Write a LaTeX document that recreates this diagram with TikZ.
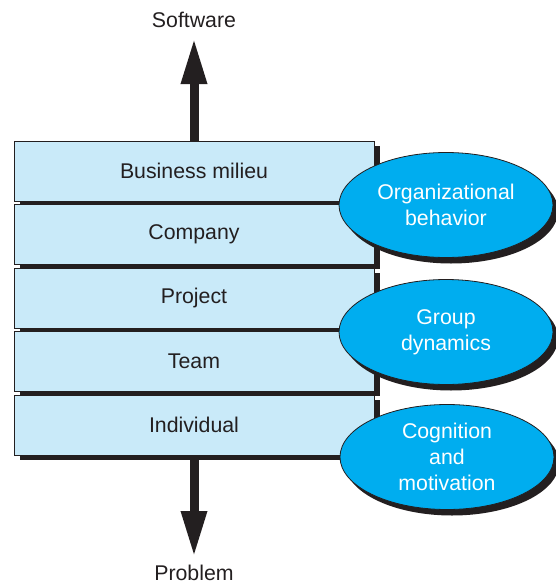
\documentclass[tikz,border=0pt]{standalone}
\usepackage{fontspec}
\setmainfont{Liberation Sans}
\usetikzlibrary{arrows.meta,shapes.geometric,shadows}
\definecolor{boxblue}{HTML}{C9EAF9}
\definecolor{ovalblue}{HTML}{00ADEF}
\definecolor{ink}{HTML}{231F20}
\tikzset{
  layer/.style={draw=ink, line width=0.8pt, fill=boxblue, minimum width=360pt, minimum height=60pt,
    inner sep=0pt, text=ink, font=\fontsize{21.3}{25}\selectfont,
    drop shadow={shadow xshift=5.5pt, shadow yshift=-4.5pt, fill=ink, opacity=1}},
  oval/.style={ellipse, draw=ink, line width=0.8pt, fill=ovalblue, minimum width=214pt, minimum height=105pt,
    inner sep=0pt, text=white, align=center, font=\fontsize{21.3}{25.8}\selectfont,
    drop shadow={shadow xshift=5pt, shadow yshift=-6pt, fill=ink, opacity=1}},
  label/.style={text=ink, font=\fontsize{21.3}{25}\selectfont, inner sep=0pt},
  bigarrow/.style={draw=ink, line width=9pt, -{Triangle[length=46pt 0 0,width=24pt 0 0]}}
}
\begin{document}
\begin{tikzpicture}[x=1pt,y=-1pt]
\useasboundingbox (0,0) rectangle (555,584);
\node[layer] (b1) at (194,171) {Business milieu};
\node[layer] (b2) at (194,234.5) {Company};
\node[layer] (b3) at (194,298) {Project};
\node[layer] (b4) at (194,361.5) {Team};
\node[layer] (b5) at (194,425) {Individual};
\node[oval] (o1) at (446,205) {Organizational\\behavior};
\node[oval] (o2) at (446,332) {Group\\dynamics};
\node[oval] (o3) at (447,457) {Cognition\\and\\motivation};
\node[label] (sw) at (194,20) {Software};
\node[label] (pr) at (194,573) {Problem};
\coordinate (swtip) at (194,38);
\coordinate (prtip) at (194,557);
\draw[bigarrow] (b1.north) -- (swtip);
\draw[bigarrow] ([yshift=-4.5pt]b5.south) -- (prtip);
\end{tikzpicture}
\end{document}
